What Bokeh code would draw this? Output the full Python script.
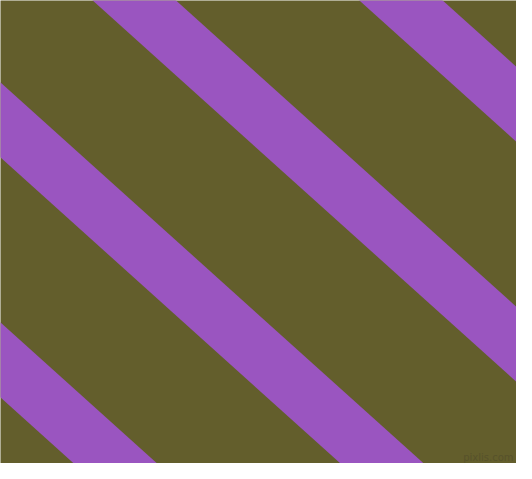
from bokeh.plotting import figure
from bokeh.models import Range1d
from bokeh.embed import file_html
from bokeh.resources import INLINE
from bokeh.core.properties import value

# Stripe pattern data (image pixel coordinates, y pointing down)
stripe_offsets = [-398, -158, 82, 322]   # y of each stripe's upper edge at x = 0
stripe_slope = 0.9                       # dy/dx of the stripes
stripe_height = 75                       # vertical thickness of each stripe
watermark = ["pixlis.com"]

BG = "#635e2c"
STRIPE = "#9a55c0"

W, H = 516, 463
p = figure(width=W, height=H, output_backend="svg", toolbar_location=None,
           x_range=Range1d(0, W), y_range=Range1d(H, 0),
           min_border=0, min_border_left=0, min_border_right=0,
           min_border_top=0, min_border_bottom=0)
p.axis.visible = False
p.grid.visible = False
p.outline_line_color = None
p.background_fill_color = BG
p.border_fill_color = BG

x0, x1 = -100, 700
xs, ys = [], []
for c in stripe_offsets:
    xs.append([x0, x1, x1, x0])
    ys.append([c + stripe_slope * x0, c + stripe_slope * x1,
               c + stripe_height + stripe_slope * x1, c + stripe_height + stripe_slope * x0])
p.patches(xs, ys, fill_color=STRIPE, line_color=None)

p.text(x=[513], y=[462], text=watermark, text_align="right", text_baseline="bottom",
       text_font_size="10px", text_color="#57522b", text_font=value("DejaVu Sans"))

open("out.html", "w").write(file_html(p, INLINE))
